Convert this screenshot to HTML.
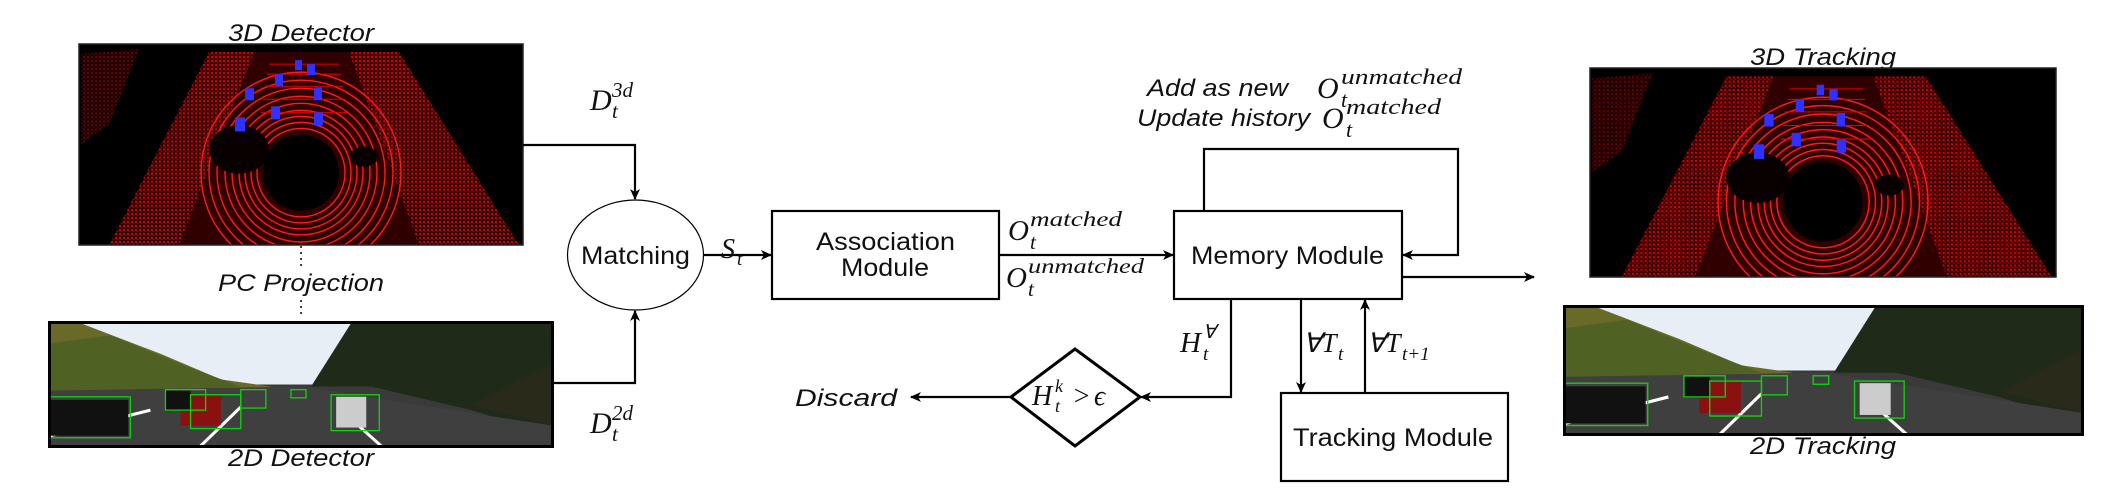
<!DOCTYPE html>
<html><head><meta charset="utf-8"><style>
html,body{margin:0;padding:0;background:#fff;}
svg{display:block;}
.lab{font-family:"Liberation Sans",sans-serif;font-style:italic;font-size:24px;fill:#111;}
.box{font-family:"Liberation Sans",sans-serif;font-size:25px;fill:#111;}
.m{font-family:"Liberation Serif",serif;font-style:italic;fill:#111;}
</style></head><body>
<svg width="2107" height="493" viewBox="0 0 2107 493" xmlns="http://www.w3.org/2000/svg">
<defs>
<marker id="ah" markerWidth="12" markerHeight="12" refX="10" refY="6" orient="auto" markerUnits="userSpaceOnUse">
<path d="M0,1 L11,6 L0,11 L3,6 Z" fill="#000"/></marker>
<pattern id="dots" width="4" height="4" patternUnits="userSpaceOnUse">
<rect width="4" height="4" fill="#200000"/><rect x="0" y="0" width="2" height="2" fill="#e00000"/><rect x="2" y="2" width="1.5" height="1.5" fill="#a00000"/></pattern>
<symbol id="pc" viewBox="0 0 444 200">
<rect width="444" height="200" fill="#000"/>
<polygon points="130,8 320,8 440,200 30,200" fill="url(#dots)"/>
<polygon points="175,8 270,8 340,200 100,200" fill="#300000"/>
<polygon points="2,10 60,5 30,80 2,100" fill="url(#dots)" opacity="0.5"/>
<g fill="none" stroke="#ff1a1a" stroke-width="1.4">
<circle cx="222" cy="128" r="44"/><circle cx="222" cy="128" r="50"/><circle cx="222" cy="128" r="56"/>
<circle cx="222" cy="128" r="62"/><circle cx="222" cy="128" r="69"/><circle cx="222" cy="128" r="76"/>
<circle cx="222" cy="128" r="84"/><circle cx="222" cy="128" r="92"/><circle cx="222" cy="128" r="100"/></g>
<g stroke="#e00000" stroke-width="1"><line x1="190" y1="20" x2="260" y2="20"/><line x1="188" y1="30" x2="262" y2="30"/><line x1="186" y1="42" x2="264" y2="42"/><line x1="184" y1="55" x2="266" y2="55"/><line x1="182" y1="68" x2="268" y2="68"/></g>
<circle cx="222" cy="128" r="38" fill="#000"/>
<ellipse cx="160" cy="105" rx="30" ry="24" fill="#080000"/>
<ellipse cx="285" cy="112" rx="14" ry="10" fill="#080000"/>
<g fill="#3030ff">
<rect x="216" y="16" width="7" height="10"/><rect x="228" y="20" width="8" height="11"/>
<rect x="196" y="30" width="8" height="12"/><rect x="166" y="44" width="9" height="12"/>
<rect x="235" y="43" width="8" height="13"/><rect x="192" y="62" width="9" height="13"/>
<rect x="235" y="68" width="9" height="13"/><rect x="156" y="73" width="10" height="14"/></g>
</symbol>
<symbol id="cam" viewBox="0 0 500 120">
<rect width="500" height="120" fill="#3a3a3a"/>
<rect width="500" height="60" fill="#e8eef5"/>
<polygon points="0,0 30,0 110,30 170,55 220,62 220,70 0,75" fill="#6a6a28"/>
<polygon points="0,20 60,12 130,40 190,62 0,70" fill="#4f6224"/>
<polygon points="300,0 500,0 500,110 420,85 320,62 260,62" fill="#1f2a18"/>
<polygon points="500,40 500,100 420,80" fill="#2a2a1a"/>
<polygon points="0,66 250,62 500,100 500,120 0,120" fill="#3f3f3f"/>
<g stroke="#fff" stroke-width="3"><line x1="0" y1="110" x2="100" y2="85"/><line x1="150" y1="120" x2="190" y2="82"/><line x1="330" y1="120" x2="290" y2="85"/></g>
<g fill="#111"><rect x="0" y="75" width="78" height="35"/><rect x="130" y="70" width="40" height="30" fill="#8b1010"/><rect x="285" y="72" width="30" height="30" fill="#ccc"/><rect x="115" y="66" width="25" height="20"/></g>
<g fill="none" stroke="#10d010" stroke-width="1.3"><rect x="0" y="72" width="80" height="40"/><rect x="115" y="65" width="40" height="20"/><rect x="140" y="70" width="50" height="33"/><rect x="190" y="65" width="25" height="18"/><rect x="280" y="70" width="48" height="35"/><rect x="240" y="65" width="15" height="8"/></g>
</symbol>
</defs>

<g lengthAdjust="spacingAndGlyphs">
<text class="lab" x="228" y="41" textLength="146" lengthAdjust="spacingAndGlyphs">3D Detector</text>
<svg x="79" y="44" width="444" height="201" viewBox="0 0 444 200" preserveAspectRatio="none"><use href="#pc"/></svg>
<rect x="79" y="44" width="444" height="201" fill="none" stroke="#222" stroke-width="1.5"/>
<line x1="301" y1="246" x2="301" y2="266" stroke="#000" stroke-width="1.5" stroke-dasharray="2,4"/>
<line x1="301" y1="300" x2="301" y2="318" stroke="#000" stroke-width="1.5" stroke-dasharray="2,4"/>
<text class="lab" x="218" y="291" textLength="166" lengthAdjust="spacingAndGlyphs">PC Projection</text>
<svg x="50" y="323" width="502" height="123" viewBox="0 0 500 120" preserveAspectRatio="none"><use href="#cam"/></svg>
<rect x="49.5" y="322.5" width="503" height="124" fill="none" stroke="#000" stroke-width="3"/>
<text class="lab" x="228" y="466" textLength="146" lengthAdjust="spacingAndGlyphs">2D Detector</text>
</g>

<g fill="none" stroke="#000" stroke-width="2.2">
<polyline points="523,145 635,145 635,199" marker-end="url(#ah)"/>
<polyline points="553,383 635,383 635,311" marker-end="url(#ah)"/>
<line x1="704" y1="255" x2="771" y2="255" marker-end="url(#ah)"/>
<line x1="999" y1="255" x2="1173" y2="255" marker-end="url(#ah)"/>
<polyline points="1204,211 1204,149 1458,149 1458,255 1403,255" marker-end="url(#ah)"/>
<line x1="1402" y1="277" x2="1534" y2="277" marker-end="url(#ah)"/>
<polyline points="1231,299 1231,397 1141,397" marker-end="url(#ah)"/>
<line x1="1011" y1="397" x2="911" y2="397" marker-end="url(#ah)"/>
<line x1="1301" y1="299" x2="1301" y2="392" marker-end="url(#ah)"/>
<line x1="1365" y1="393" x2="1365" y2="300" marker-end="url(#ah)"/>
</g>
<text class="m" x="590" y="110" font-size="30">D</text><text class="m" x="612" y="97" font-size="21">3d</text><text class="m" x="612" y="118" font-size="21">t</text>
<text class="m" x="590" y="433" font-size="30">D</text><text class="m" x="612" y="420" font-size="21">2d</text><text class="m" x="612" y="441" font-size="21">t</text>

<ellipse cx="635.5" cy="255" rx="68" ry="55" fill="#fff" stroke="#000" stroke-width="1.2"/>
<text class="box" x="581" y="264" textLength="109" lengthAdjust="spacingAndGlyphs">Matching</text>
<text class="m" x="721" y="258" font-size="28">S</text><text class="m" x="737" y="265" font-size="19">t</text>

<rect x="772" y="211" width="227" height="88" fill="#fff" stroke="#000" stroke-width="2.2"/>
<text class="box" x="816" y="250" textLength="139" lengthAdjust="spacingAndGlyphs">Association</text>
<text class="box" x="841" y="276" textLength="88" lengthAdjust="spacingAndGlyphs">Module</text>

<text class="m" x="1008" y="240" font-size="29">O</text><text class="m" x="1030" y="226" font-size="21" textLength="92" lengthAdjust="spacingAndGlyphs">matched</text><text class="m" x="1030" y="249" font-size="21">t</text>
<text class="m" x="1006" y="287" font-size="29">O</text><text class="m" x="1028" y="273" font-size="21" textLength="116" lengthAdjust="spacingAndGlyphs">unmatched</text><text class="m" x="1028" y="296" font-size="21">t</text>

<rect x="1174" y="211" width="228" height="88" fill="#fff" stroke="#000" stroke-width="2.2"/>
<text class="box" x="1191" y="264" textLength="193" lengthAdjust="spacingAndGlyphs">Memory Module</text>

<text class="lab" x="1147" y="96" textLength="141" lengthAdjust="spacingAndGlyphs">Add as new</text>
<text class="m" x="1317" y="98" font-size="30">O</text><text class="m" x="1341" y="84" font-size="22" textLength="121" lengthAdjust="spacingAndGlyphs">unmatched</text><text class="m" x="1341" y="107" font-size="22">t</text>
<text class="lab" x="1137" y="126" textLength="173" lengthAdjust="spacingAndGlyphs">Update history</text>
<text class="m" x="1322" y="128" font-size="30">O</text><text class="m" x="1346" y="114" font-size="22" textLength="95" lengthAdjust="spacingAndGlyphs">matched</text><text class="m" x="1346" y="137" font-size="22">t</text>

<text class="m" x="1180" y="352" font-size="29">H</text><text class="m" x="1203" y="338" font-size="19">∀</text><text class="m" x="1203" y="360" font-size="19">t</text>
<text class="m" x="1303" y="352" font-size="27">∀T</text><text class="m" x="1338" y="360" font-size="19">t</text>
<text class="m" x="1367" y="352" font-size="27">∀T</text><text class="m" x="1402" y="360" font-size="19">t+1</text>

<polygon points="1011,397 1075,349 1140,397 1075,446" fill="#fff" stroke="#000" stroke-width="3"/>
<text class="m" x="1032" y="405" font-size="28">H</text><text class="m" x="1055" y="392" font-size="18">k</text><text class="m" x="1055" y="412" font-size="18">t</text>
<text class="m" x="1072" y="405" font-size="28" font-style="normal">&gt;</text><text class="m" x="1094" y="405" font-size="28">ϵ</text>
<text class="lab" x="795" y="406" textLength="102" lengthAdjust="spacingAndGlyphs">Discard</text>

<rect x="1281" y="393" width="227" height="88" fill="#fff" stroke="#000" stroke-width="2.2"/>
<text class="box" x="1293" y="446" textLength="200" lengthAdjust="spacingAndGlyphs">Tracking Module</text>

<text class="lab" x="1750" y="65" textLength="146" lengthAdjust="spacingAndGlyphs">3D Tracking</text>
<svg x="1590" y="68" width="466" height="209" viewBox="0 0 444 200" preserveAspectRatio="none"><use href="#pc"/></svg>
<rect x="1590" y="68" width="466" height="209" fill="none" stroke="#222" stroke-width="1.5"/>
<svg x="1565" y="307" width="517" height="127" viewBox="0 0 500 120" preserveAspectRatio="none"><use href="#cam"/></svg>
<rect x="1564.5" y="306.5" width="518" height="128" fill="none" stroke="#000" stroke-width="3"/>
<text class="lab" x="1750" y="454" textLength="146" lengthAdjust="spacingAndGlyphs">2D Tracking</text>
</svg>
</body></html>
